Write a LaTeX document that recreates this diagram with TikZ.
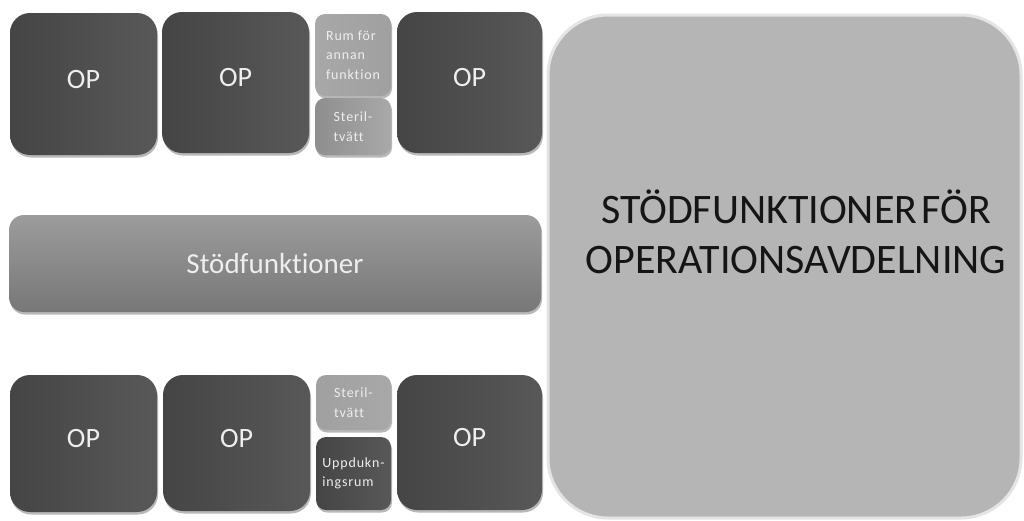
\documentclass[tikz,border=0pt]{standalone}
\usepackage{fontspec}
\setmainfont{Carlito}[Ligatures=NoCommon]
\usetikzlibrary{shadows}

\definecolor{opleft}{HTML}{454545}
\definecolor{opright}{HTML}{585858}
\definecolor{lighttxt}{HTML}{EEEEEE}
\definecolor{roomlight}{HTML}{A8A8A8}
\definecolor{roomlightR}{HTML}{A0A0A0}
\definecolor{sterilL}{HTML}{8E8E8E}
\definecolor{sterilR}{HTML}{A9A9A9}
\definecolor{barTop}{HTML}{9C9C9C}
\definecolor{barBot}{HTML}{777777}
\definecolor{panelfill}{HTML}{B5B5B5}
\definecolor{panelrim}{HTML}{E4E4E4}
\definecolor{paneltxt}{HTML}{151515}

\tikzset{
  room/.style={inner sep=0pt, outer sep=0pt, align=left,
    drop shadow={shadow xshift=1pt, shadow yshift=-2.5pt, opacity=0.28, fill=black}},
  opbox/.style={room, rounded corners=20pt, left color=opleft, right color=opright,
    text=lighttxt, font=\fontsize{28}{32}\selectfont, text depth=10pt},
  smallbox/.style={room, rounded corners=10pt, text=lighttxt,
    font=\fontsize{14}{19.5}\selectfont\addfontfeature{LetterSpace=6}},
  barbox/.style={room, rounded corners=15pt, top color=barTop, bottom color=barBot,
    text=lighttxt, font=\fontsize{29}{33}\selectfont},
  panelbox/.style={inner sep=0pt, rounded corners=60pt, fill=panelfill,
    draw=panelrim, line width=3pt},
  paneltitle/.style={inner sep=0pt, align=center, text=paneltxt,
    font=\fontsize{42}{50}\selectfont}
}

\begin{document}
\begin{tikzpicture}[x=1pt, y=-1pt]
\useasboundingbox (0,0) rectangle (1024,520);
\fill[white] (0,0) rectangle (1024,520);

% upper row of operating rooms
\node[opbox, minimum width=147pt, minimum height=142pt] (op1) at (83.5,84) {OP};
\node[opbox, minimum width=147pt, minimum height=141pt] (op2) at (235.5,82.5) {OP};
\node[smallbox, left color=roomlight, right color=roomlightR,
      minimum width=76pt, minimum height=82pt] (rum) at (353,55) {Rum för\\annan\\funktion};
\node[smallbox, left color=sterilL, right color=sterilR,
      minimum width=76pt, minimum height=57pt] (steril1) at (353,126.5) {Steril-\\tvätt};
\node[opbox, minimum width=145pt, minimum height=141pt] (op3) at (469.5,82.5) {OP};

% support corridor
\node[barbox, minimum width=532pt, minimum height=97pt] (stod) at (275,263.5) {Stödfunktioner};

% lower row of operating rooms
\node[opbox, minimum width=147pt, minimum height=137pt] (op4) at (83.5,443.5) {OP};
\node[opbox, minimum width=147pt, minimum height=136pt] (op5) at (236.5,443) {OP};
\node[smallbox, left color=roomlightR, right color=roomlight,
      minimum width=75pt, minimum height=55pt] (steril2) at (353.5,402.5) {Steril-\\tvätt};
\node[smallbox, left color=opleft, right color=opright,
      minimum width=75pt, minimum height=73pt] (uppd) at (353.5,473.5) {Uppdukn-\\ingsrum};
\node[opbox, minimum width=145pt, minimum height=135pt] (op6) at (469.5,442.5) {OP};

% support functions panel
\node[panelbox, minimum width=473pt, minimum height=503pt] (panel) at (784.5,266.5) {};
\node[paneltitle] (paneltext) at (796,232) {STÖDFUNKTIONER\hspace{4pt}FÖR\\OPERATIONSAVDELNING};
\end{tikzpicture}
\end{document}
